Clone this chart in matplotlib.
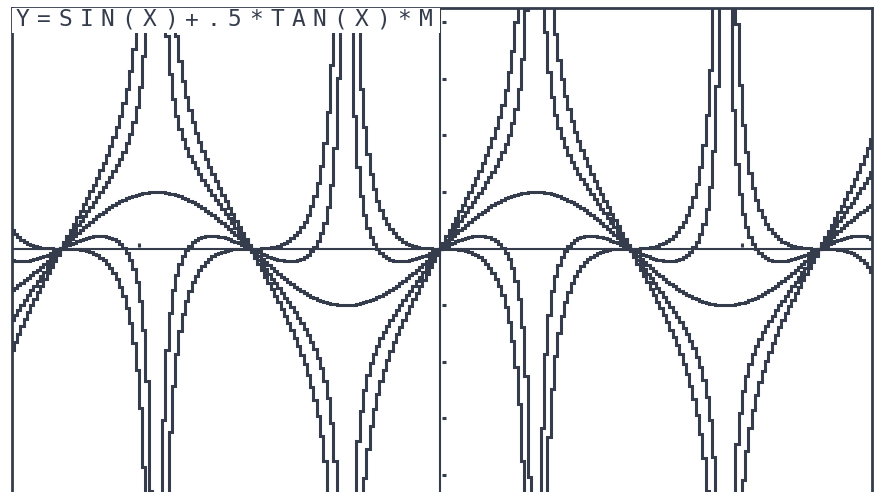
"""Graphing-calculator screen: Y = sin(X) + .5*tan(X)*M for several M."""
import numpy as np
import matplotlib
matplotlib.use("Agg")
import matplotlib.pyplot as plt

# calculator window and the family parameter
M_VALUES = [-2, -1, 0, 1, 2]
XMIN, XMAX = -7.1, 7.15
YMIN, YMAX = -4.3, 4.25
XSCL, YSCL = 5, 1
COLUMNS = 262                       # horizontal pixel columns of the screen
TITLE = "Y=SIN(X)+.5*TAN(X)*M"

INK = "#353d4c"
W, H = 874, 492

fig = plt.figure(figsize=(W / 100, H / 100), dpi=100)
fig.patch.set_facecolor("white")
ax = fig.add_axes([12 / W, 0.0, (872 - 12) / W, (H - 8) / H])
ax.set_xlim(XMIN, XMAX)
ax.set_ylim(YMIN, YMAX)
ax.set_xticks([]); ax.set_yticks([])
for s in ax.spines.values():
    s.set_color(INK); s.set_linewidth(2.0)
ax.spines["bottom"].set_visible(False)

# axes + tick marks
ax.axhline(0, color=INK, lw=1.5, zorder=2)
ax.axvline(0, color=INK, lw=1.5, zorder=2)
yt = np.arange(np.ceil(YMIN / YSCL), np.floor(YMAX / YSCL) + 1) * YSCL
yt = yt[yt != 0]
ax.plot(np.full(len(yt), 0.05), yt, ls="none", marker="_", ms=3, mew=2.2, color=INK, zorder=2)
xt = np.arange(np.ceil(XMIN / XSCL), np.floor(XMAX / XSCL) + 1) * XSCL
xt = xt[xt != 0]
ax.plot(xt, np.full(len(xt), 0.06), ls="none", marker="|", ms=3, mew=2.2, color=INK, zorder=2)

x = np.linspace(XMIN, XMAX, COLUMNS)
# break the trace where tan(x) jumps across an asymptote
brk = np.where(np.sign(np.cos(x[1:])) != np.sign(np.cos(x[:-1])))[0] + 1
for m in M_VALUES:
    y = np.sin(x) + 0.5 * np.tan(x) * m
    if m != 0:
        xs, ys = np.insert(x, brk, np.nan), np.insert(y, brk, np.nan)
    else:
        xs, ys = x, y
    ax.plot(xs, ys, color=INK, lw=2.2, drawstyle="steps-mid", zorder=3,
            solid_joinstyle="miter", solid_capstyle="butt")

# equation line at the top of the screen, calculator style (fixed pitch)
ax.fill_between([XMIN, 0], YMAX - 0.45, YMAX, color="white", zorder=4, lw=0)
x0, pitch = 12, 21.2
for i, ch in enumerate(TITLE):
    fig.text((x0 + pitch * i + pitch / 2) / W, 1 - 20 / H, ch, ha="center", va="center",
             fontsize=16.5, family="DejaVu Sans Mono", color=INK, zorder=5)

fig.savefig("out.png", dpi=100)
